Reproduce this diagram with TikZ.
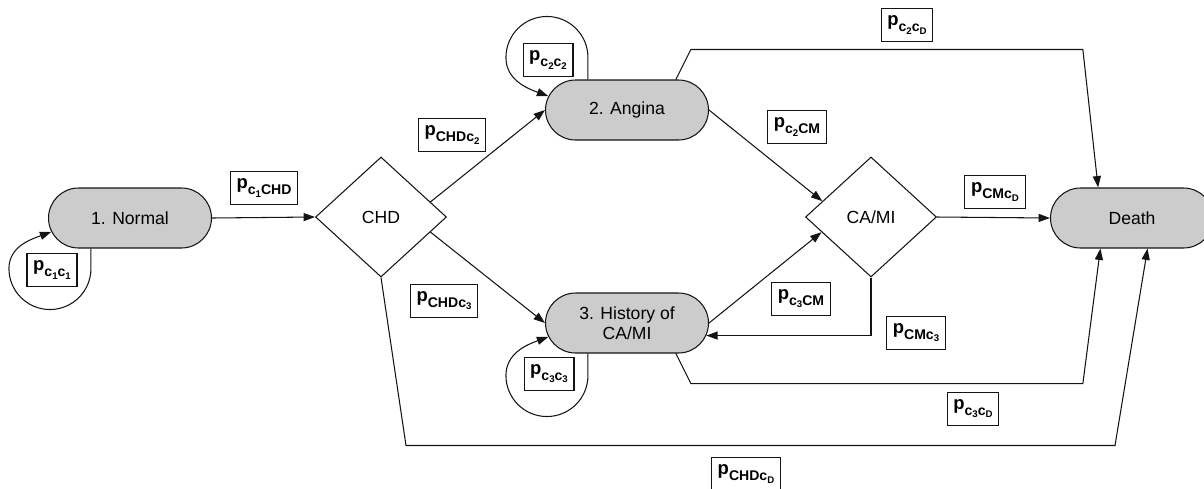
\documentclass[tikz,border=0pt]{standalone}
\usepackage{fontspec}
\setmainfont{Liberation Sans}
\usepackage{tikz}
\usetikzlibrary{shapes.geometric, shapes.misc, arrows.meta, positioning, calc}
\definecolor{stgray}{RGB}{204,204,204}
\definecolor{mydark}{RGB}{20,20,20}
\newcommand{\probl}[1]{p\raisebox{-3pt}{\fontsize{8}{9}\selectfont #1}}
\newcommand{\csub}[1]{c\raisebox{-1.6pt}{\fontsize{5.5}{6}\selectfont #1}}
\tikzset{
  stnode/.style={rounded rectangle, draw=mydark, fill=stgray,
    minimum width=3.26cm, minimum height=1.2cm, inner sep=0pt,
    align=center, font=\fontsize{10}{11.5}\selectfont, line width=0.6pt},
  decision/.style={diamond, draw=mydark, fill=white,
    minimum width=2.62cm, minimum height=2.4cm, inner sep=0pt,
    font=\fontsize{10}{11.5}\selectfont, line width=0.6pt},
  plabel/.style={rectangle, draw=mydark, fill=white, inner xsep=3.5pt,
    minimum height=0.66cm, font=\bfseries\fontsize{10.5}{12}\selectfont,
    line width=0.6pt},
  arrow/.style={-{Triangle[length=6.5pt,width=4.6pt]}, line width=0.6pt, color=mydark},
  line/.style={line width=0.6pt, color=mydark}
}

\begin{document}
\begin{tikzpicture}[x=0.02cm, y=0.02cm]
  \useasboundingbox (0,0) rectangle (1204,-488);

  % States
  \node[stnode] (normal) at (130,-218) {1. Normal};
  \node[stnode] (angina) at (627,-110) {2. Angina};
  \node[stnode] (history) at (627,-323) {3. History of\\CA/MI};
  \node[stnode] (death) at (1132,-218) {Death};

  % Events
  \node[decision] (chd) at (381,-217) {CHD};
  \node[decision] (camid) at (871,-217) {CA/MI};

  % Connections
  \draw[arrow] (normal.east) -- (chd.west);
  \draw[arrow] (chd.17) -- (angina.west);
  \draw[arrow] (chd.-17) -- (history.west);
  \draw[arrow] (angina.east) -- (camid.162);
  \draw[arrow] (history.east) -- (camid.197);
  \draw[arrow] (camid.south) |- (history.-9);
  \draw[arrow] (camid.east) -- (death.west);

  % Paths to death
  \draw[arrow] (angina.32) -- ++(15,30) -- ++(392,0) -- (death.138);
  \draw[arrow] (history.-32) -- ++(15,-30) -- ++(392,0) -- (death.224);
  \draw[arrow] (chd.south) -- ++(25,-168) -- ++(709,0) -- (death.-63);

  % Self loops
  \draw[arrow] (normal.218) -- ++(0,-20) arc[start angle=0, end angle=-180, radius=41]
    to[out=90, in=200] (normal.190);
  \draw[arrow] (angina.142) -- ++(0,22) arc[start angle=0, end angle=180, radius=41]
    to[out=-90, in=160] (angina.170);
  \draw[arrow] (history.218) -- ++(0,-22) arc[start angle=0, end angle=-180, radius=41]
    to[out=90, in=200] (history.190);

  % Transition probabilities
  \node[plabel] (p11) at (52,-270) {\probl{\csub{1}\csub{1}}};
  \node[plabel] (p1chd) at (264,-188) {\probl{\csub{1}CHD}};
  \node[plabel] (pchd2) at (452,-135) {\probl{CHD\csub{2}}};
  \node[plabel] (p22) at (548,-60) {\probl{\csub{2}\csub{2}}};
  \node[plabel] (p2cm) at (797,-127) {\probl{\csub{2}CM}};
  \node[plabel] (pchd3) at (444,-301) {\probl{CHD\csub{3}}};
  \node[plabel] (p33) at (549,-374) {\probl{\csub{3}\csub{3}}};
  \node[plabel] (p3cm) at (801,-299) {\probl{\csub{3}CM}};
  \node[plabel] (pcm3) at (916,-333) {\probl{CM\csub{3}}};
  \node[plabel] (pcmd) at (995,-192) {\probl{CM\csub{D}}};
  \node[plabel] (p2d) at (907,-25) {\probl{\csub{2}\csub{D}}};
  \node[plabel] (p3d) at (973,-409) {\probl{\csub{3}\csub{D}}};
  \node[plabel] (pchdd) at (746,-474) {\probl{CHD\csub{D}}};
\end{tikzpicture}
\end{document}
